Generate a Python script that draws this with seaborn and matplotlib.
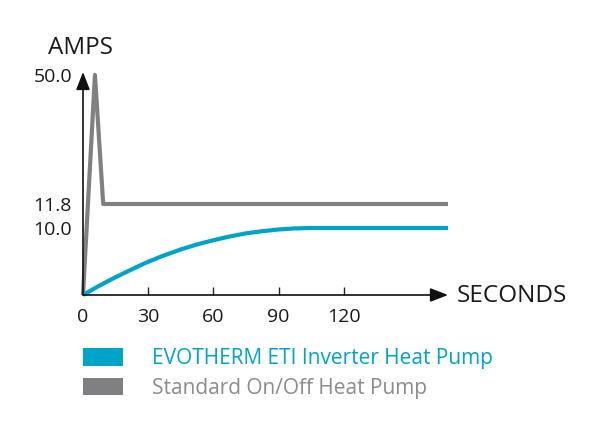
import numpy as np
import pandas as pd
import matplotlib
matplotlib.use("Agg")
import matplotlib.pyplot as plt
from matplotlib.patches import Patch
import seaborn as sns

# ---- data ----
inv_t = [0, 7, 14, 21, 28.5, 36, 44.6, 52, 59, 67, 75, 82, 90, 97, 105, 168]
inv_amps = [0.0, 1.3, 2.5, 3.6, 4.75, 5.75, 6.75, 7.5, 8.1, 8.7, 9.2, 9.5, 9.78, 9.93, 10.0, 10.0]
std_t = [0, 5.5, 9.3, 168]
std_amps = [0.0, 50.0, 11.8, 11.8]
series_names = ["EVOTHERM ETI Inverter Heat Pump", "Standard On/Off Heat Pump"]
x_ticks = [0, 30, 60, 90, 120]
y_ticks = [10.0, 11.8, 50.0]
y_tick_labels = ["10.0", "11.8", "50.0"]

# schematic (non-linear) amp axis used by the original drawing
scale_amps = [-100, 0, 10, 11.8, 50, 200]
scale_pos = [-670, 0, 67, 91, 220, 730]

BLUE = "#00A4C8"
GREY = "#808083"
GREY_TXT = "#8C8C8C"
INK = "#1a1a1a"

sns.set_theme(style="white")
plt.rcParams["font.family"] = ["Open Sans", "DejaVu Sans"]

df = pd.concat([
    pd.DataFrame({"t": inv_t, "amps": inv_amps, "series": series_names[0]}),
    pd.DataFrame({"t": std_t, "amps": std_amps, "series": series_names[1]}),
])

fig = plt.figure(figsize=(6.0, 4.44), dpi=100)
ax = fig.add_axes([83 / 600, 149 / 444, (448 - 83) / 600, (372 - 149) / 444])

fwd = lambda v: np.interp(v, scale_amps, scale_pos)
inv = lambda p: np.interp(p, scale_pos, scale_amps)
ax.set_yscale("function", functions=(fwd, inv))

sns.lineplot(data=df, x="t", y="amps", hue="series", sort=False,
             palette={series_names[0]: BLUE, series_names[1]: GREY},
             hue_order=[series_names[1], series_names[0]],
             linewidth=3.0, legend=False, ax=ax, estimator=None)
for ln in ax.lines:
    ln.set_clip_on(False)
    ln.set_solid_joinstyle("round")
    ln.set_solid_capstyle("butt")

ax.set_xlim(0, 168)
ax.set_ylim(0, float(inv(223)))
for s in ax.spines.values():
    s.set_visible(False)

ax.set_xticks(x_ticks)
ax.set_xticklabels([str(v) for v in x_ticks])
ax.tick_params(axis="x", direction="in", length=6, width=1.0, color="#222222",
               pad=9, labelsize=14, labelcolor=INK, bottom=True)
ax.xaxis.get_major_ticks()[0].tick1line.set_visible(False)
ax.set_yticks(y_ticks)
ax.set_yticklabels(y_tick_labels)
ax.tick_params(axis="y", length=0, pad=8, labelsize=14, labelcolor=INK)
ax.set_xlabel("")
ax.set_ylabel("")
ax.grid(False)

arrow = dict(arrowstyle="-|>,head_length=0.9,head_width=0.35", color="#111111",
             lw=1.2, shrinkA=0, shrinkB=0)
ax.annotate("", xy=(1, 0), xytext=(0, 0), xycoords="axes fraction", arrowprops=arrow)
ax.annotate("", xy=(0, 1), xytext=(0, 0), xycoords="axes fraction", arrowprops=arrow)

fig.text(81 / 600, 1 - 48 / 444, "AMPS", ha="center", va="center", fontsize=17.5, color=INK)
fig.text(457 / 600, 1 - 296 / 444, "SECONDS", ha="left", va="center", fontsize=17.5, color=INK)

handles = [Patch(facecolor=BLUE, edgecolor="none"), Patch(facecolor=GREY, edgecolor="none")]
leg = fig.legend(handles, series_names, loc="upper left",
                 bbox_to_anchor=(82.5 / 600, 1 - 348 / 444), frameon=False,
                 fontsize=15, handlelength=1.95, handleheight=0.91,
                 handletextpad=1.37, labelspacing=0.42, borderpad=0, borderaxespad=0)
for txt, c in zip(leg.get_texts(), [BLUE, GREY_TXT]):
    txt.set_color(c)

fig.savefig("out.png", dpi=100)
